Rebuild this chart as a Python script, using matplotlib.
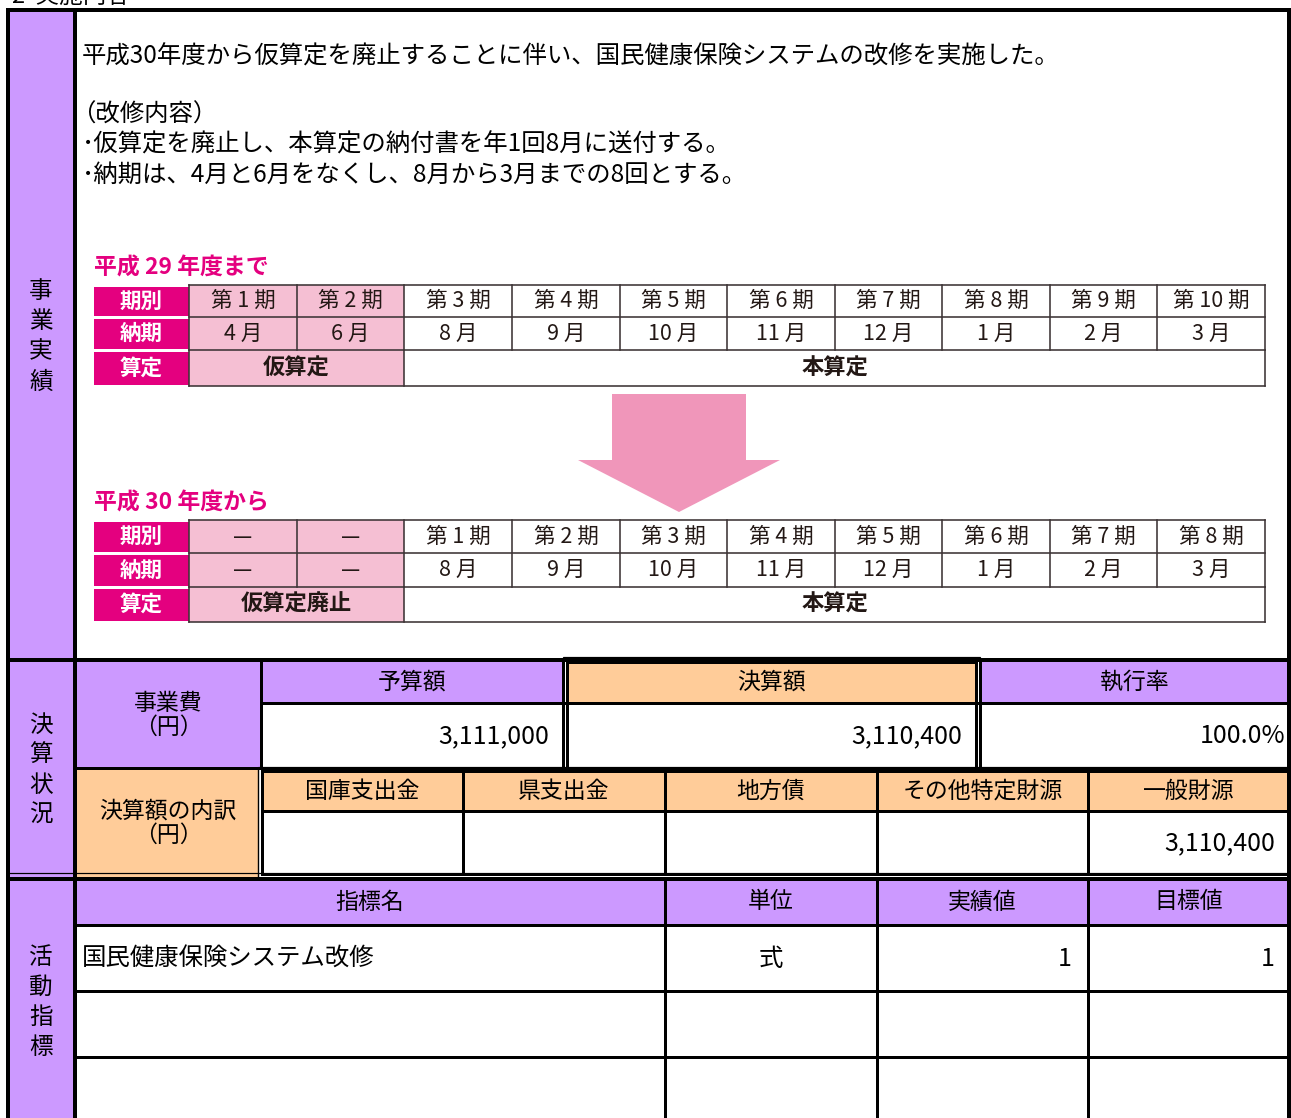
import matplotlib
matplotlib.use('Agg')
import matplotlib.pyplot as plt
from matplotlib.patches import Rectangle, Polygon

plt.rcParams['font.family'] = ['Noto Sans CJK JP', 'DejaVu Sans']

# ---------------- data ----------------
section_title = '2  実施内容'
side_labels = ['事業実績', '決算状況', '活動指標']
intro_lines = [
    '平成30年度から仮算定を廃止することに伴い、国民健康保険システムの改修を実施した。',
    '',
    '（改修内容）',
    '･仮算定を廃止し、本算定の納付書を年1回8月に送付する。',
    '･納期は、4月と6月をなくし、8月から3月までの8回とする。',
]
row_labels = ['期別', '納期', '算定']
old_title = '平成 29 年度まで'
old_periods = ['第 1 期', '第 2 期', '第 3 期', '第 4 期', '第 5 期',
               '第 6 期', '第 7 期', '第 8 期', '第 9 期', '第 10 期']
old_months = ['4 月', '6 月', '8 月', '9 月', '10 月', '11 月', '12 月', '1 月', '2 月', '3 月']
old_calc = ['仮算定', '本算定']
new_title = '平成 30 年度から'
new_periods = ['—', '—', '第 1 期', '第 2 期', '第 3 期', '第 4 期',
               '第 5 期', '第 6 期', '第 7 期', '第 8 期']
new_months = ['—', '—', '8 月', '9 月', '10 月', '11 月', '12 月', '1 月', '2 月', '3 月']
new_calc = ['仮算定廃止', '本算定']

cost_label = '事業費\n（円）'
budget_headers = ['予算額', '決算額', '執行率']
budget_amount = 3111000
settled_amount = 3110400
breakdown_label = '決算額の内訳\n（円）'
breakdown_headers = ['国庫支出金', '県支出金', '地方債', 'その他特定財源', '一般財源']
breakdown_values = [None, None, None, None, 3110400]
indicator_headers = ['指標名', '単位', '実績値', '目標値']
indicator_rows = [
    ['国民健康保険システム改修', '式', 1, 1],
    ['', '', '', ''],
    ['', '', '', ''],
]

# ---------------- style ----------------
PURPLE = '#cc99ff'
ORANGE = '#ffcc99'
MAGENTA = '#e4007f'
PINK = '#f5bfd3'
ARROW = '#f096ba'
GRID = '#3d3436'
INK = '#231815'
PX = 0.72  # points per pixel at dpi 100

W, H = 1291, 1118
fig = plt.figure(figsize=(W / 100, H / 100), dpi=100)
ax = fig.add_axes([0, 0, 1, 1])
ax.set_xlim(0, W)
ax.set_ylim(H, 0)
ax.axis('off')


def rect(x0, y0, x1, y1, fc='none', ec='none', lw=0, z=1):
    ax.add_patch(Rectangle((x0, y0), x1 - x0, y1 - y0, facecolor=fc,
                           edgecolor=ec, linewidth=lw, zorder=z))


def hline(y, x0, x1, lw=3, c='black', z=5):
    ax.plot([x0, x1], [y, y], color=c, lw=lw * PX, zorder=z, solid_capstyle='projecting')


def vline(x, y0, y1, lw=3, c='black', z=5):
    ax.plot([x, x], [y0, y1], color=c, lw=lw * PX, zorder=z, solid_capstyle='projecting')


def txt(x, y, s, size=17, ha='center', va='center', **kw):
    ax.text(x, y, s, fontsize=size, ha=ha, va=va, zorder=10, **kw)


# top partial title (cut by the image edge, as in the reference)
txt(12, -3, section_title, size=17, ha='left')

L, R = 8, 1289
TOP, BOT = 10, 1118
SIDE = 75

# side column background
rect(L, TOP, SIDE, BOT, fc=PURPLE)

# side labels (vertical stacked)
side_centers = [337, 770, 1002]
for lab, yc in zip(side_labels, side_centers):
    n = len(lab)
    for i, ch in enumerate(lab):
        txt(41, yc + (i - (n - 1) / 2) * 30, ch, size=17)

# ---------------- section 1 ----------------
intro_y = [57, 86, 115, 145, 175]
for line, yy in zip(intro_lines, intro_y):
    if line:
        xx = 71 if line.startswith('（') else 82
        txt(xx, yy, line, size=17.6, ha='left')

col_edges = [94, 189, 297, 404, 512, 620, 727, 835, 942, 1050, 1157, 1265]


def pink_table(title, ty, rows_y, periods, months, calc):
    txt(94, ty, title, size=16.5, ha='left', color=MAGENTA, weight='bold')
    x_hdr0, x_hdr1 = col_edges[0], col_edges[1]
    # magenta header column
    for i in range(3):
        rect(x_hdr0, rows_y[i] + 1.5, x_hdr1, rows_y[i + 1] - 1.5, fc=MAGENTA, z=2)
        txt((x_hdr0 + x_hdr1) / 2, (rows_y[i] + rows_y[i + 1]) / 2, row_labels[i],
            size=15.5, color='white', weight='bold')
    # pink cells for first two columns
    rect(col_edges[1], rows_y[0], col_edges[3], rows_y[3], fc=PINK, z=2)
    # text rows
    for r, vals in enumerate([periods, months]):
        yc = (rows_y[r] + rows_y[r + 1]) / 2
        for c, v in enumerate(vals):
            xc = (col_edges[c + 1] + col_edges[c + 2]) / 2
            txt(xc, yc, v, size=15.5, color=INK)
    yc = (rows_y[2] + rows_y[3]) / 2
    txt((col_edges[1] + col_edges[3]) / 2, yc, calc[0], size=16, weight='bold', color=INK)
    txt((col_edges[3] + col_edges[-1]) / 2, yc, calc[1], size=16, weight='bold', color=INK)
    # grid
    lw = 1.6
    for yy in rows_y:
        hline(yy, col_edges[1], col_edges[-1], lw=lw, c=GRID)
    for xx in col_edges[1:]:
        vline(xx, rows_y[0], rows_y[2], lw=lw, c=GRID)
    vline(col_edges[1], rows_y[2], rows_y[3], lw=lw, c=GRID)
    vline(col_edges[3], rows_y[2], rows_y[3], lw=lw, c=GRID)
    vline(col_edges[-1], rows_y[2], rows_y[3], lw=lw, c=GRID)


pink_table(old_title, 268, [285, 317, 350, 386], old_periods, old_months, old_calc)
pink_table(new_title, 503, [520, 553, 587, 622], new_periods, new_months, new_calc)

# arrow
ax.add_patch(Polygon([(612, 394), (746, 394), (746, 460), (780, 460), (679, 512),
                      (578, 460), (612, 460)], closed=True, facecolor=ARROW,
                     edgecolor='none', zorder=2))

# ---------------- section 2 ----------------
S2, S2M, S2B = 660, 768, 877
rect(SIDE, S2, 261, S2M, fc=PURPLE)
rect(SIDE, S2M, 258, S2B, fc=ORANGE)
txt(168, 715, cost_label, size=16.5, linespacing=1.05)
txt(168, 823, breakdown_label, size=16.5, linespacing=1.05)

bx = [(261, 563), (567, 976), (979, R)]
hdr_cols = [PURPLE, ORANGE, PURPLE]
rate = settled_amount / budget_amount * 100
budget_vals = [f'{budget_amount:,}', f'{settled_amount:,}', f'{rate:.1f}%']
for (x0, x1), hc, h, v in zip(bx, hdr_cols, budget_headers, budget_vals):
    rect(x0, S2, x1, 703, fc=hc)
    txt((x0 + x1) / 2, 682, h, size=16.5)
    txt(x1 - 14 if x1 < R else x1 - 4, 736, v, size=18, ha='right')

# budget grid
hline(S2, L, R, lw=4)
hline(703, 261, R, lw=3)
vline(261, S2, S2M, lw=3)
vline(563, S2, S2M, lw=3)
# double border around 決算額
rect(567, 662, 976, 768, ec='black', lw=3 * PX, z=5)
rect(563, 657, 980, 771, ec='black', lw=1.2 * PX, z=5)
vline(980, 660, 768, lw=3)
hline(S2M, SIDE, R, lw=3)

# breakdown
bd_edges = [262, 463, 665, 877, 1088, R]
for i, h in enumerate(breakdown_headers):
    x0, x1 = bd_edges[i], bd_edges[i + 1]
    rect(x0, 771, x1, 811, fc=ORANGE)
    txt((x0 + x1) / 2, 791, h, size=16.5)
    v = breakdown_values[i]
    if v is not None:
        txt(x1 - 14, 843, f'{v:,}', size=18, ha='right')
hline(811, 262, R, lw=3)
for xx in bd_edges[1:-1]:
    vline(xx, 771, 874, lw=3)
rect(262, 771, R + 2, 874, ec='black', lw=3 * PX, z=5)
rect(258, 767, R + 4, 878, ec='black', lw=1.2 * PX, z=5)
vline(258, S2M, S2B, lw=1.2)

# ---------------- section 3 ----------------
S3 = 879
hline(873, L, R, lw=1.2)
hline(S3, L, R, lw=4)
ind_edges = [SIDE, 665, 877, 1088, R]
rect(SIDE, S3, R, 925, fc=PURPLE)
for i, h in enumerate(indicator_headers):
    txt((ind_edges[i] + ind_edges[i + 1]) / 2, 902, h, size=16.5)
row_y = [925, 991, 1057, 1123]
for r, row in enumerate(indicator_rows):
    yc = (row_y[r] + row_y[r + 1]) / 2
    name, unit, actual, target = row
    if name:
        txt(82, yc + 1, name, size=17.6, ha='left')
    if unit:
        txt((ind_edges[1] + ind_edges[2]) / 2, yc + 1, unit, size=17.6)
    if actual != '':
        txt(ind_edges[3] - 16, yc + 1, str(actual), size=18, ha='right')
    if target != '':
        txt(ind_edges[4] - 14, yc + 1, str(target), size=18, ha='right')
for yy in row_y[:-1]:
    hline(yy, SIDE, R, lw=3)
for xx in ind_edges[1:-1]:
    vline(xx, S3, BOT, lw=3)

# outer frame
vline(L, TOP, BOT, lw=4)
vline(R, TOP, BOT, lw=4)
hline(TOP, L, R, lw=4)
vline(SIDE, TOP, BOT, lw=4)

fig.savefig('out.png', dpi=100)
